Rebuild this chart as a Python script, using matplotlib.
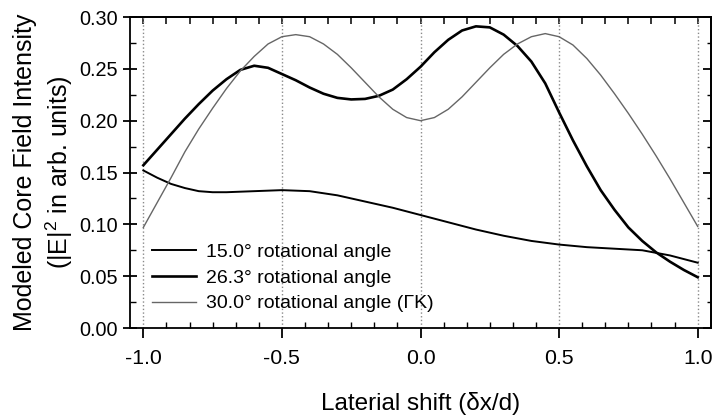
import matplotlib
matplotlib.use('Agg')
import matplotlib.pyplot as plt
from matplotlib.ticker import MultipleLocator

plt.rcParams['font.family'] = ['Liberation Sans', 'DejaVu Sans']
plt.rcParams['mathtext.fontset'] = 'custom'
plt.rcParams['mathtext.rm'] = 'Liberation Sans'
plt.rcParams['axes.unicode_minus'] = False

# values
x_fine = [-1.0, -0.95, -0.9, -0.85, -0.8, -0.75, -0.7, -0.65, -0.6, -0.55, -0.5,
          -0.45, -0.4, -0.35, -0.3, -0.25, -0.2, -0.15, -0.1, -0.05, 0.0,
          0.05, 0.1, 0.15, 0.2, 0.25, 0.3, 0.35, 0.4, 0.45, 0.5,
          0.55, 0.6, 0.65, 0.7, 0.75, 0.8, 0.85, 0.9, 0.95, 1.0]

# 26.3 deg curve
i_263 = [0.157, 0.172, 0.187, 0.202, 0.216, 0.229, 0.240, 0.249, 0.253, 0.251, 0.245,
         0.239, 0.232, 0.226, 0.222, 0.2205, 0.221, 0.224, 0.230, 0.240, 0.252,
         0.266, 0.278, 0.287, 0.291, 0.290, 0.283, 0.272, 0.257, 0.236, 0.208,
         0.181, 0.156, 0.133, 0.114, 0.097, 0.084, 0.073, 0.064, 0.056, 0.049]

# 30.0 deg curve (GK)
i_300 = [0.097, 0.121, 0.145, 0.170, 0.192, 0.212, 0.231, 0.248, 0.262, 0.274, 0.281,
         0.283, 0.281, 0.274, 0.264, 0.251, 0.237, 0.223, 0.211, 0.203, 0.200,
         0.203, 0.211, 0.223, 0.237, 0.251, 0.264, 0.274, 0.281, 0.284, 0.281,
         0.273, 0.260, 0.244, 0.226, 0.207, 0.187, 0.166, 0.144, 0.121, 0.098]

# 15.0 deg curve
x_15 = [-1.0, -0.95, -0.9, -0.85, -0.8, -0.75, -0.7, -0.6, -0.5, -0.4, -0.3, -0.2,
        -0.1, 0.0, 0.1, 0.2, 0.3, 0.4, 0.5, 0.6, 0.7, 0.8, 0.9, 1.0]
i_15 = [0.152, 0.145, 0.139, 0.135, 0.132, 0.131, 0.131, 0.132, 0.133, 0.132, 0.128, 0.122,
        0.116, 0.109, 0.102, 0.095, 0.089, 0.084, 0.0805, 0.078, 0.0765, 0.075, 0.070, 0.063]

labels = ['15.0\u00b0 rotational angle', '26.3\u00b0 rotational angle',
          '30.0\u00b0 rotational angle (\u0393K)']
guides = [-1.0, -0.5, 0.0, 0.5, 1.0]

fig = plt.figure(figsize=(7.16, 4.17), dpi=100)
ax = fig.add_axes([0.1816, 0.2134, 0.8114, 0.7458])

for g in guides:
    ax.axvline(g, color='#8a8a8a', linestyle=':', linewidth=1.0, zorder=1)

ax.plot(x_15, i_15, color='black', linewidth=1.4, label=labels[0], zorder=3)
ax.plot(x_fine, i_263, color='black', linewidth=1.9, label=labels[1], zorder=3)
ax.plot(x_fine, i_300, color='#666666', linewidth=1.0, label=labels[2], zorder=3)

ax.set_xlim(-1.048, 1.048)
ax.set_ylim(0, 0.30)
ax.xaxis.set_major_locator(MultipleLocator(0.5))
ax.xaxis.set_minor_locator(MultipleLocator(0.5 / 6))
ax.yaxis.set_major_locator(MultipleLocator(0.05))
ax.yaxis.set_minor_locator(MultipleLocator(0.025))
ax.xaxis.set_major_formatter(plt.FormatStrFormatter('%.1f'))
ax.yaxis.set_major_formatter(plt.FormatStrFormatter('%.2f'))

ax.tick_params(axis='x', which='major', direction='out', length=7, width=1.3,
               labelsize=15.3, pad=8)
ax.tick_params(axis='x', which='minor', direction='in', length=4, width=1.0)
ax.tick_params(axis='y', which='major', direction='inout', length=10, width=1.3,
               labelsize=14.3, pad=4)
ax.tick_params(axis='y', which='minor', direction='in', length=4, width=1.0)

for sp in ax.spines.values():
    sp.set_linewidth(1.3)

top = ax.secondary_xaxis('top')
top.xaxis.set_major_locator(MultipleLocator(0.5))
top.xaxis.set_minor_locator(MultipleLocator(0.5 / 6))
top.tick_params(which='both', direction='in', length=5, width=1.1, labeltop=False)
top.spines['top'].set_linewidth(1.3)

right = ax.secondary_yaxis('right')
right.yaxis.set_major_locator(MultipleLocator(0.05))
right.yaxis.set_minor_locator(MultipleLocator(0.025))
right.tick_params(which='major', direction='in', length=6, width=1.3, labelright=False)
right.tick_params(which='minor', direction='in', length=3, width=1.0)
right.spines['right'].set_linewidth(1.3)

ax.set_xlabel('Laterial shift (\u03b4x/d)', fontsize=17.5)
ax.xaxis.set_label_coords(0.5, -0.207)
ax.set_ylabel('Modeled Core Field Intensity\n(|E|$^2$ in arb. units)', fontsize=18,
              linespacing=1.3)
ax.yaxis.set_label_coords(-0.094, 0.5)

ax.legend(loc='lower left', bbox_to_anchor=(0.037, 0.05), frameon=False,
          fontsize=14, handlelength=2.3, handletextpad=0.5, labelspacing=0.42,
          borderpad=0, borderaxespad=0)

fig.savefig('out.png', dpi=100)
